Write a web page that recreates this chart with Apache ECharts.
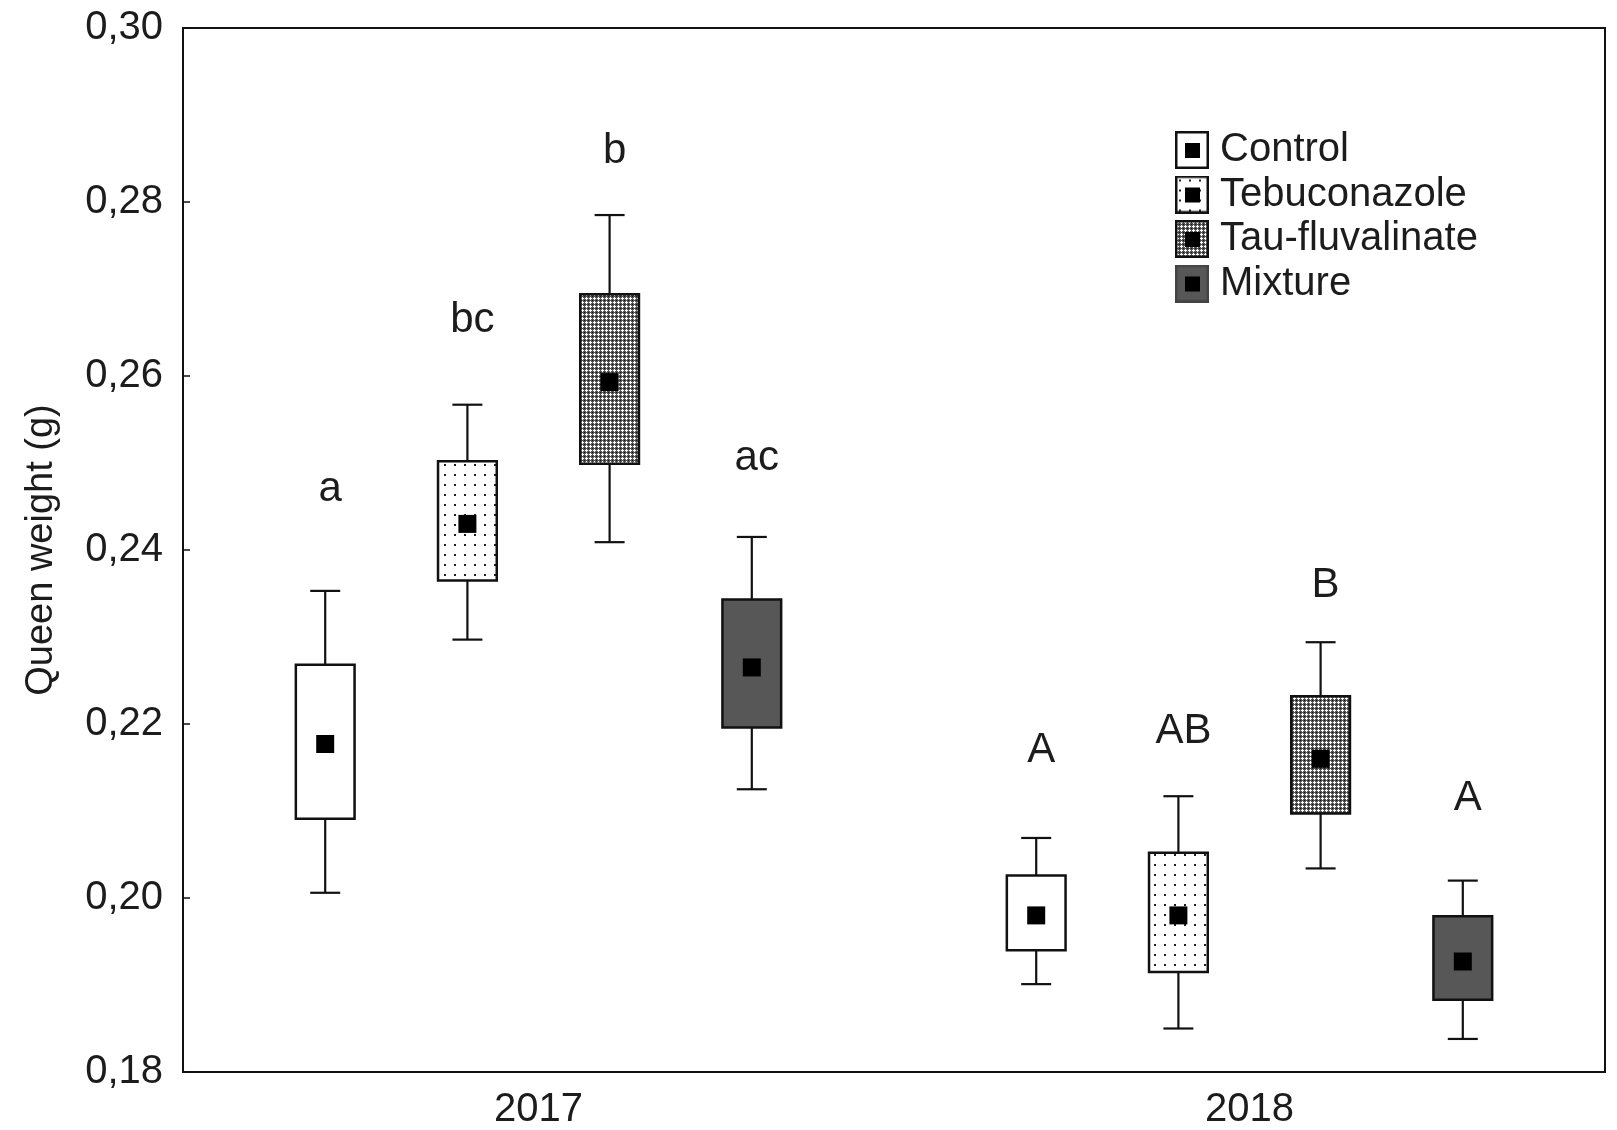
<!DOCTYPE html>
<html>
<head>
<meta charset="utf-8">
<title>Queen weight</title>
<script src="https://cdn.jsdelivr.net/npm/echarts@6/dist/echarts.min.js"></script>
<style>
  html, body { margin: 0; padding: 0; background: #fff; }
  #chart { width: 1617px; height: 1130px; }
</style>
</head>
<body>
<div id="chart"></div>
<script>
// Queen weight (g) by treatment and year: mean (square), mean ± SE (box), mean ± 1.96 SE (whiskers)
const years = ['2017', '2018'];
const treatments = ['Control', 'Tebuconazole', 'Tau-fluvalinate', 'Mixture'];

// each row: [lower whisker, box bottom, mean, box top, upper whisker], one row per year
const controlStats        = [[0.2006, 0.2091, 0.2177, 0.2268, 0.2353], [0.1901, 0.1940, 0.1980, 0.2026, 0.2069]];
const tebuconazoleStats   = [[0.2297, 0.2365, 0.2430, 0.2502, 0.2567], [0.1850, 0.1915, 0.1980, 0.2052, 0.2117]];
const tauFluvalinateStats = [[0.2409, 0.2499, 0.2593, 0.2694, 0.2785], [0.2034, 0.2097, 0.2160, 0.2232, 0.2294]];
const mixtureStats        = [[0.2125, 0.2196, 0.2265, 0.2343, 0.2415], [0.1838, 0.1883, 0.1927, 0.1979, 0.2020]];

// significance letters and the height they are written at, per treatment, per year
const groupLetters = [['a', 'A'], ['bc', 'AB'], ['b', 'B'], ['ac', 'A']];
const letterLevels = [[0.2470, 0.2170], [0.2664, 0.2192], [0.2858, 0.2359], [0.2505, 0.2115]];

// value axis
const yMin = 0.18, yMax = 0.30, yStep = 0.02;

const FONT = '"Liberation Sans", Arial, Helvetica, sans-serif';
const TEXT = '#1c1c1c';

// ---- fill patterns ----
function dotsTile() {
  const c = document.createElement('canvas');
  c.width = 10; c.height = 10;
  const g = c.getContext('2d');
  g.fillStyle = '#fff'; g.fillRect(0, 0, 10, 10);
  g.fillStyle = '#222'; g.fillRect(4, 4, 2, 2);
  return c;
}
function hatchTile() {
  const c = document.createElement('canvas');
  c.width = 4; c.height = 4;
  const g = c.getContext('2d');
  g.fillStyle = '#555'; g.fillRect(0, 0, 4, 4);
  g.fillStyle = '#fff';
  [[2,1],[1,2],[2,2],[3,2],[2,3]].forEach(p => g.fillRect(p[0], p[1], 1, 1));
  g.fillStyle = '#111';
  g.fillRect(0, 0, 1, 1);
  return c;
}
const dotsPattern = { image: dotsTile(), repeat: 'repeat' };
const hatchPattern = { image: hatchTile(), repeat: 'repeat' };

const fills = ['#ffffff', dotsPattern, hatchPattern, '#575757'];
const statsBySeries = [controlStats, tebuconazoleStats, tauFluvalinateStats, mixtureStats];

// ---- legend icons ----
function legendIcon(kind) {
  const w = 34, h = 38;
  const c = document.createElement('canvas');
  c.width = w; c.height = h;
  const g = c.getContext('2d');
  if (kind === 0) { g.fillStyle = '#fff'; }
  else if (kind === 1) { g.fillStyle = g.createPattern(dotsTile(), 'repeat'); }
  else if (kind === 2) { g.fillStyle = g.createPattern(hatchTile(), 'repeat'); }
  else { g.fillStyle = '#575757'; }
  g.fillRect(0, 0, w, h);
  g.strokeStyle = kind === 3 ? '#444' : '#111';
  g.lineWidth = 2.5;
  g.strokeRect(1.25, 1.25, w - 2.5, h - 2.5);
  g.fillStyle = '#000';
  g.fillRect(10, 12, 15, 15);
  return 'image://' + c.toDataURL();
}

const SLOT = 0.2;       // distance between neighbouring boxes, as a share of the category band
const BOX = 0.0826;     // box width, share of the band
const CAP = 30;         // whisker cap width, px
const MEAN = 18;        // mean marker size, px

function renderItem(params, api) {
  const si = params.seriesIndex;
  const cat = api.value(0);
  const band = api.size([1, 0])[0];
  const cx = api.coord([cat, api.value(3)])[0] + (si - 1.5) * band * SLOT;
  const y = k => api.coord([cat, api.value(k)])[1];
  const yLW = y(1), yBL = y(2), yM = y(3), yBH = y(4), yHW = y(5);
  const bw = band * BOX;
  const line = { stroke: '#111', lineWidth: 2.2 };
  const children = [
    { type: 'line', shape: { x1: cx, y1: yBH, x2: cx, y2: yHW }, style: line },
    { type: 'line', shape: { x1: cx - CAP / 2, y1: yHW, x2: cx + CAP / 2, y2: yHW }, style: line },
    { type: 'line', shape: { x1: cx, y1: yBL, x2: cx, y2: yLW }, style: line },
    { type: 'line', shape: { x1: cx - CAP / 2, y1: yLW, x2: cx + CAP / 2, y2: yLW }, style: line },
    { type: 'rect', shape: { x: cx - bw / 2, y: yBH, width: bw, height: yBL - yBH },
      style: { fill: fills[si], stroke: '#111', lineWidth: 2.5 } },
    { type: 'rect', shape: { x: cx - MEAN / 2, y: yM - MEAN / 2, width: MEAN, height: MEAN },
      style: { fill: '#000' } },
    { type: 'text', x: cx + 5, y: api.coord([cat, api.value(6)])[1],
      style: { text: groupLetters[si][params.dataIndex], align: 'center', verticalAlign: 'middle',
               font: '42px ' + FONT, fill: TEXT } }
  ];
  return { type: 'group', children };
}

const series = treatments.map((name, si) => ({
  name,
  type: 'custom',
  renderItem,
  encode: { x: 0, y: [1, 2, 3, 4, 5] },
  data: years.map((yr, yi) => [yi].concat(statsBySeries[si][yi], [letterLevels[si][yi]])),
  itemStyle: { color: si === 3 ? '#575757' : '#fff' },
  z: 3
}));

const chart = echarts.init(document.getElementById('chart'), null, { renderer: 'canvas' });
chart.setOption({
  backgroundColor: '#ffffff',
  animation: false,
  textStyle: { fontFamily: FONT },
  grid: { left: 183, right: 12, top: 28, bottom: 57, show: true, borderColor: '#111', borderWidth: 2, containLabel: false },
  legend: {
    orient: 'vertical',
    left: 1170,
    top: 125,
    itemWidth: 34,
    itemHeight: 38,
    itemGap: 4.5,
    selectedMode: false,
    data: treatments.map((n, i) => ({ name: n, icon: legendIcon(i) })),
    textStyle: { fontSize: 40, color: TEXT, fontFamily: FONT, lineHeight: 38, padding: [0, 0, 0, 6] }
  },
  xAxis: {
    type: 'category',
    data: years,
    boundaryGap: true,
    axisLine: { lineStyle: { color: '#111', width: 2 } },
    axisTick: { inside: true, length: 7, alignWithLabel: true, lineStyle: { color: '#111', width: 1.5 } },
    axisLabel: { fontSize: 40, color: TEXT, margin: 18, fontFamily: FONT },
    splitLine: { show: false }
  },
  yAxis: {
    type: 'value',
    min: yMin,
    max: yMax,
    interval: yStep,
    name: 'Queen weight (g)',
    nameLocation: 'middle',
    nameRotate: 90,
    nameGap: 122,
    nameTextStyle: { fontSize: 38, color: TEXT, fontFamily: FONT },
    axisLine: { show: true, lineStyle: { color: '#111', width: 2 } },
    axisTick: { show: true, inside: true, length: 7, lineStyle: { color: '#111', width: 1.5 } },
    axisLabel: { fontSize: 40, color: TEXT, margin: 20, fontFamily: FONT,
                 formatter: v => v.toFixed(2).replace('.', ',') },
    splitLine: { show: false }
  },
  series
});
</script>
</body>
</html>
